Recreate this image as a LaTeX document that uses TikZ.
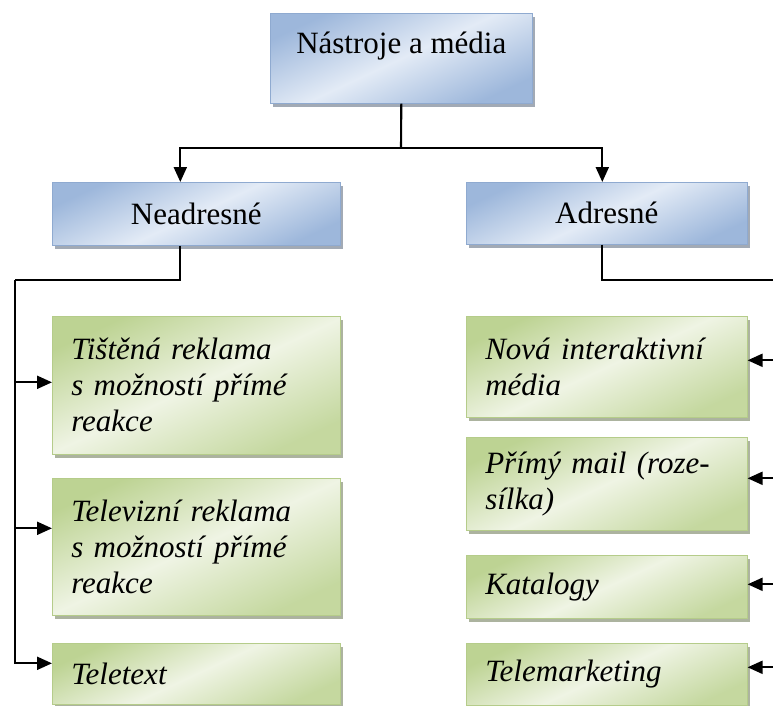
\documentclass[tikz,border=0pt]{standalone}
\usepackage{fontspec}
\setmainfont{Liberation Serif}
\usetikzlibrary{shadows,arrows.meta}
\definecolor{bDark}{HTML}{9DB7DB}
\definecolor{bLight}{HTML}{E3EBF6}
\definecolor{bEdge}{HTML}{8FAAD0}
\definecolor{gDark}{HTML}{BDD393}
\definecolor{gLight}{HTML}{EFF4E4}
\definecolor{gEdge}{HTML}{B5CC8A}
\tikzset{
  bluebox/.style={draw=bEdge, line width=0.6pt, inner sep=0pt, anchor=north west,
    top color=bDark, bottom color=bDark, middle color=bLight, shading angle=25,
    drop shadow={shadow xshift=2.5pt, shadow yshift=-3.5pt, fill=bDark!55!black, opacity=.55},
    font=\fontsize{31}{36}\selectfont},
  greenbox/.style={draw=gEdge, line width=0.6pt, inner xsep=19pt, inner ysep=0pt, anchor=north west,
    top color=gDark, bottom color=gDark!85!gLight, middle color=gLight, shading angle=25,
    drop shadow={shadow xshift=2.5pt, shadow yshift=-3.5pt, fill=gDark!55!black, opacity=.55},
    align=left, font=\fontsize{31}{36}\selectfont\itshape},
  conn/.style={line width=2.1pt, black},
  arr/.style={conn, -{Triangle[length=15pt,width=13pt]}}
}
\begin{document}
\begin{tikzpicture}[x=1pt,y=-1pt]
\useasboundingbox (0,0) rectangle (773,706);
% blue level
\node[bluebox, minimum width=262pt, text height=40pt, text depth=50pt] (top) at (270,13) {Nástroje a média};
\node[bluebox, minimum width=288pt, minimum height=63pt] (nead) at (52,182) {Neadresné};
\node[bluebox, minimum width=281pt, minimum height=62pt] (adr) at (466,182) {Adresné};
% left green
\node[greenbox, minimum width=288pt, text width=250pt, minimum height=138pt] (tis) at (52,316) {Tištěná reklama\\s možností přímé\\reakce};
\node[greenbox, minimum width=288pt, text width=250pt, minimum height=137pt] (tv) at (52,478) {Televizní reklama\\s možností přímé\\reakce};
\node[greenbox, minimum width=288pt, text width=250pt, minimum height=61pt] (tele) at (52,643) {Teletext};
% right green
\node[greenbox, minimum width=281pt, text width=243pt, minimum height=101pt] (nova) at (466,316) {Nová interaktivní\\média};
\node[greenbox, minimum width=281pt, text width=243pt, minimum height=93pt] (mail) at (466,437) {\makebox[237pt][s]{Přímý mail (roze-}\\sílka)};
\node[greenbox, minimum width=281pt, text width=243pt, minimum height=63pt] (kat) at (466,555) {Katalogy};
\node[greenbox, minimum width=281pt, text width=243pt, minimum height=62pt] (telm) at (466,643) {Telemarketing};
% top connectors
\coordinate (j) at (401,148);
\draw[conn] (top.south) -- (j);
\draw[arr] (j) -| ([xshift=-16pt]nead.north);
\draw[arr] (j) -| ([xshift=-4.5pt]adr.north);
% left trunk
\coordinate (lt) at (15,280);
\coordinate (a1) at ([yshift=3pt]tis.west);
\coordinate (a2) at ([yshift=18.5pt]tv.west);
\coordinate (a3) at ([yshift=10.5pt]tele.west);
\draw[conn] ([xshift=-16pt]nead.south) |- (lt);
\draw[arr] (lt) |- (a3);
\draw[arr] (a1 -| lt) -- (a1);
\draw[arr] (a2 -| lt) -- (a2);
% right trunk
\coordinate (rt) at (777,280);
\coordinate (b1) at ([yshift=6.5pt]nova.east);
\coordinate (b2) at ([yshift=5.5pt]mail.east);
\coordinate (b3) at ([yshift=2.5pt]kat.east);
\coordinate (b4) at ([yshift=7pt]telm.east);
\draw[conn] ([xshift=-4.5pt]adr.south) |- (rt) |- (b4 -| rt);
\draw[arr] (b1 -| rt) -- (b1);
\draw[arr] (b2 -| rt) -- (b2);
\draw[arr] (b3 -| rt) -- (b3);
\draw[arr] (b4 -| rt) -- (b4);
\end{tikzpicture}
\end{document}
